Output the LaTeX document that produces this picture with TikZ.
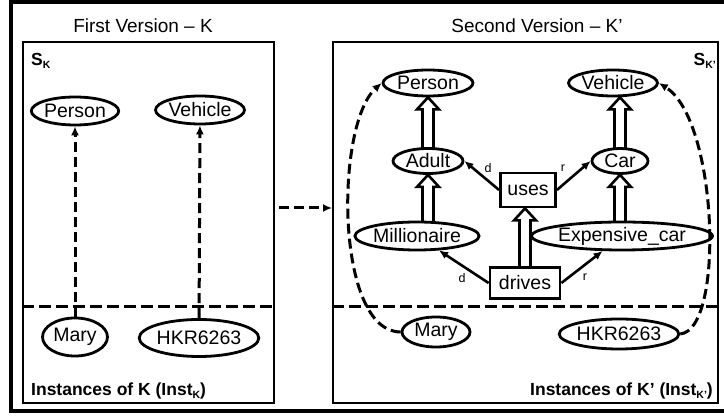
\documentclass[tikz,border=0pt]{standalone}
\usepackage{fontspec}
\setmainfont{Liberation Sans}
\usetikzlibrary{arrows.meta,shapes.geometric,calc,backgrounds}

% lowered, smaller subscript letter
\newcommand\lowsub[1]{\raisebox{-0.35ex}{\fontsize{10.5}{10.5}\selectfont #1}}

% hollow "is-a" arrow: vertical at the x of #1, from the centre of #2 up to #3
\newcommand\isalink[3]{%
  \draw[isa] let \p1=(#1 |- #2.center), \p2=(#1 |- #3.south) in
    (\x1-5.5pt,\y1) -- (\x1-5.5pt,\y2-12pt) -- (\x1-11pt,\y2-12pt) -- (\x1,\y2)
    -- (\x1+11pt,\y2-12pt) -- (\x1+5.5pt,\y2-12pt) -- (\x1+5.5pt,\y1);}

\begin{document}
\begin{tikzpicture}[x=1pt,y=-1pt,
  cls/.style={ellipse, draw, line width=2.8pt, fill=white, inner sep=0pt,
    font=\fontsize{19.5}{19.5}\selectfont},
  relbox/.style={rectangle, draw, line width=2.8pt, fill=white, inner sep=0pt,
    font=\fontsize{19.5}{19.5}\selectfont},
  frame/.style={rectangle, draw, line width=2pt, inner sep=0pt},
  title/.style={font=\fontsize{19}{19}\selectfont, inner sep=0pt},
  tag/.style={font=\fontsize{17.5}{17.5}\selectfont\bfseries, inner sep=0pt},
  lbl/.style={font=\fontsize{12.5}{12.5}\selectfont, inner sep=0pt},
  sepline/.style={line width=3pt, dash pattern=on 12pt off 5pt},
  inst/.style={line width=3pt, dash pattern=on 10pt off 5pt,
    -{Latex[length=9pt,width=8pt]}},
  role/.style={line width=2.6pt, -{Latex[length=9pt,width=8pt]}},
  isa/.style={draw, fill=white, line width=2.6pt, line join=miter}]
\useasboundingbox (0,0) rectangle (724,419);

% outer frame (runs past the right edge)
\draw[line width=4.5pt] (11,2) rectangle (740,411);

% the two panels
\node[frame, minimum width=251pt, minimum height=361pt] (lf) at (148.5,222.5) {};
\node[frame, minimum width=385pt, minimum height=361pt] (rf) at (525.5,222.5) {};
\node[title] (t1) at (143,26) {First Version – K};
\node[title] (t2) at (537,26) {Second Version – K’};
\node[tag, anchor=west] (sk1) at (31,61) {S\lowsub{K}};
\node[tag, anchor=east] (sk2) at (716,61) {S\lowsub{K’}};
\node[tag, anchor=west] (ik1) at (31,391) {Instances of K (Inst\lowsub{K})};
\node[tag, anchor=east] (ik2) at (713,391) {Instances of K’ (Inst\lowsub{K’})};

% schema / instance separators
\coordinate (cut) at (0,307);
\draw[sepline] (lf.west |- cut) -- (lf.east |- cut);
\draw[sepline] (rf.west |- cut) -- (rf.east |- cut);

% evolution arrow
\draw[inst, shorten <=4pt] ([yshift=14.5pt]lf.east) -- ([yshift=14.5pt]rf.west);

% ---- first version
\node[cls, minimum width=80pt, minimum height=28pt] (p1) at (75,111) {Person};
\node[cls, minimum width=85pt, minimum height=28pt] (v1) at (200,110) {Vehicle};
\node[cls, minimum width=65pt, minimum height=38pt] (m1) at (75,337) {Mary};
\node[cls, minimum width=107pt, minimum height=37pt] (h1) at (199,338) {HKR6263};
\draw[inst] (m1) -- (p1);
\draw[inst] (h1) -- (v1);

% ---- second version
\node[cls, minimum width=90pt, minimum height=26pt] (p2) at (428,83) {Person};
\node[cls, minimum width=83pt, minimum height=26pt] (v2) at (613,83) {Vehicle};
\node[cls, minimum width=70pt, minimum height=25pt] (a2) at (428,161) {Adult};
\node[cls, minimum width=56pt, minimum height=25pt] (c2) at (620,161) {Car};
\node[relbox, minimum width=55pt, minimum height=34pt] (u2) at (528,190) {uses};
\node[cls, minimum width=103pt, minimum height=28pt] (mi2) at (417,236) {Millionaire};
\node[cls, minimum width=163pt, minimum height=28pt] (e2) at (622,236) {Expensive\_car};
\node[relbox, minimum width=70pt, minimum height=31pt] (d2) at (525,283) {drives};
\node[cls, minimum width=68pt, minimum height=30pt] (m2) at (436,332) {Mary};
\node[cls, minimum width=108pt, minimum height=30pt] (h2) at (619,334) {HKR6263};

\begin{scope}[on background layer]
  \isalink{a2}{a2}{p2}
  \isalink{a2}{mi2}{a2}
  \isalink{c2}{c2}{v2}
  \isalink{c2}{e2}{c2}
  \isalink{d2}{d2}{u2}
\end{scope}

\draw[role] (u2.west) -- (a2.east);
\draw[role] (u2.east) -- (c2.west);
\draw[role] (d2.west) -- (mi2);
\draw[role] (d2.east) -- (e2);
\node[lbl] (ld1) at (488,168) {d};
\node[lbl] (lr1) at (563,168) {r};
\node[lbl] (ld2) at (462,278) {d};
\node[lbl] (lr2) at (585,277) {r};

\draw[inst] (m2.west) .. controls (335,332) and (335,125) .. (p2.west);
\draw[inst] (h2.east) .. controls (725,330) and (718,120) .. (v2.east);
\end{tikzpicture}
\end{document}
